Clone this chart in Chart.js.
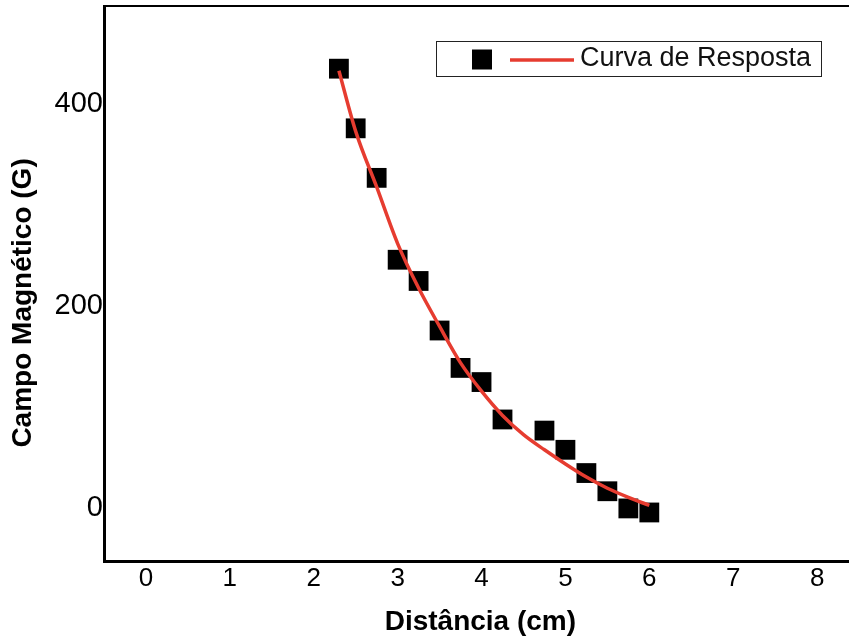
<!DOCTYPE html>
<html><head><meta charset="utf-8">
<script src="https://cdn.jsdelivr.net/npm/chart.js@4.4.0/dist/chart.umd.min.js"></script>
<style>html,body{margin:0;padding:0;background:#fff;overflow:hidden}#wrap{width:849px;height:641px;position:relative}</style>
</head><body><div id="wrap"><canvas id="c" width="849" height="641"></canvas></div>
<script>
const distances = [2.3, 2.5, 2.75, 3.0, 3.25, 3.5, 3.75, 4.0, 4.25, 4.75, 5.0, 5.25, 5.5, 5.75, 6.0];
const fieldValues = [435, 376, 327, 246, 225, 176, 139, 125, 88, 77, 58, 35, 17, 0, -4];
const curveX = [2.3, 2.5, 2.75, 3.0, 3.25, 3.5, 3.75, 4.0, 4.25, 4.5, 4.75, 5.0, 5.25, 5.5, 5.75, 6.0];
const curveY = [433, 373, 318, 262, 218, 180, 144, 116, 92, 73, 58, 44, 31, 20, 11, 3];
const xTicks = [0, 1, 2, 3, 4, 5, 6, 7, 8];
const yTicks = [0, 200, 400];
const curveLabel = 'Curva de Resposta';
const xTitle = 'Distância (cm)';
const yTitle = 'Campo Magnético (G)';

const FONT = "'Liberation Sans', Arial, sans-serif";

function noPad(s) { s.paddingTop = 0; s.paddingBottom = 0; s.paddingLeft = 0; s.paddingRight = 0; }

const boxLegend = {
  id: 'boxLegend',
  afterDraw(chart) {
    const ctx = chart.ctx;
    const ds = chart.data.datasets;
    const pts = ds.find(d => !d.showLine);
    const line = ds.find(d => d.showLine);
    ctx.save();
    ctx.strokeStyle = '#222';
    ctx.lineWidth = 1;
    ctx.strokeRect(436.5, 41.5, 385, 35);
    ctx.fillStyle = pts.backgroundColor;
    ctx.fillRect(472, 49.5, 20, 20);
    ctx.strokeStyle = line.borderColor;
    ctx.lineWidth = line.borderWidth;
    ctx.beginPath(); ctx.moveTo(510, 60); ctx.lineTo(574, 60); ctx.stroke();
    ctx.fillStyle = '#111';
    ctx.font = '27px ' + FONT;
    ctx.textBaseline = 'middle';
    ctx.textAlign = 'left';
    ctx.fillText(line.label, 580, 59);
    ctx.restore();
  }
};

new Chart(document.getElementById('c'), {
  type: 'scatter',
  data: {
    datasets: [
      {
        label: curveLabel,
        data: curveX.map((x, i) => ({x, y: curveY[i]})),
        showLine: true,
        borderColor: '#e63c30',
        borderWidth: 3.5,
        pointRadius: 0,
        cubicInterpolationMode: 'monotone',
        order: 0,
        xAxisID: 'x', yAxisID: 'y'
      },
      {
        label: '',
        data: distances.map((x, i) => ({x, y: fieldValues[i]})),
        showLine: false,
        pointStyle: 'rect',
        pointRadius: 14,
        backgroundColor: '#000',
        borderColor: '#000',
        borderWidth: 0,
        order: 1,
        xAxisID: 'x', yAxisID: 'y'
      }
    ]
  },
  options: {
    responsive: false,
    animation: false,
    events: [],
    layout: {autoPadding: false, padding: {top: 6, left: 0, right: 0, bottom: 0}},
    plugins: {legend: {display: false}, tooltip: {enabled: false}},
    scales: {
      x: {
        type: 'linear', position: 'bottom', min: -0.5, max: 8.38,
        afterBuildTicks: s => { s.ticks = xTicks.map(v => ({value: v})); },
        afterFit: s => { s.height = 80; noPad(s); },
        grid: {display: false, drawTicks: false},
        border: {display: true, color: '#000', width: 3},
        ticks: {color: '#000', padding: 2, maxRotation: 0, font: {family: FONT, size: 26}},
        title: {display: true, text: ' ' + xTitle, color: '#000', padding: {top: 4, bottom: 2}, font: {family: FONT, size: 28, weight: 'bold'}}
      },
      xTop: {
        type: 'linear', position: 'top', display: true,
        afterFit: s => { s.height = 0; noPad(s); },
        grid: {display: false, drawTicks: false},
        border: {display: true, color: '#000', width: 2},
        ticks: {display: false}
      },
      y: {
        type: 'linear', position: 'left', min: -52, max: 497,
        afterBuildTicks: s => { s.ticks = yTicks.map(v => ({value: v})); },
        afterFit: s => { s.width = 104; noPad(s); },
        grid: {display: false, drawTicks: false},
        border: {display: true, color: '#000', width: 3},
        ticks: {color: '#000', padding: 1, font: {family: FONT, size: 29}},
        title: {display: true, text: yTitle + '     ', color: '#000', padding: {top: 6, bottom: 0}, font: {family: FONT, size: 28, weight: 'bold'}}
      }
    }
  },
  plugins: [boxLegend]
});
</script>
</body></html>
